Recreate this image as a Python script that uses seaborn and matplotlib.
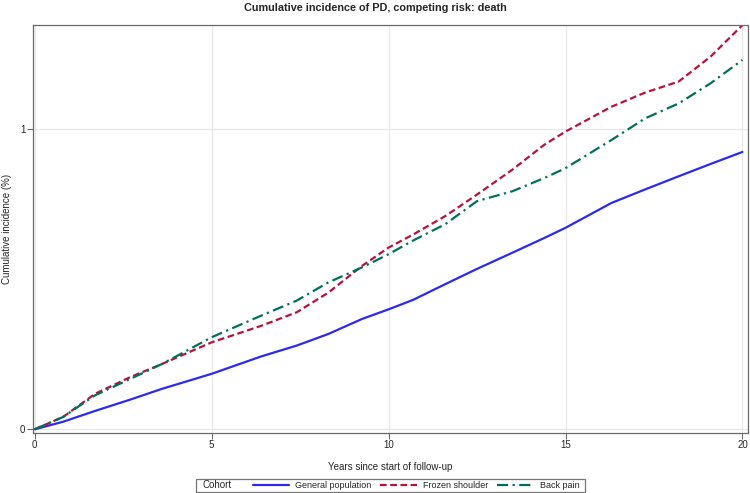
import pandas as pd
import seaborn as sns
import matplotlib.pyplot as plt
import matplotlib.patches as mpatches

# values (years, cumulative incidence in %)
years = [0, 0.8, 1.7, 2.7, 3.6, 5, 6.4, 7.4, 8.3, 9.25, 10, 10.7, 11.6,
         12.5, 13.5, 14.4, 15, 16.3, 17.25, 18.2, 19.1, 20]
general_population = [0, 0.025, 0.061, 0.099, 0.135, 0.185, 0.243, 0.279, 0.318, 0.368, 0.400,
                      0.432, 0.484, 0.535, 0.589, 0.638, 0.672, 0.755, 0.800, 0.844, 0.885, 0.925]
frozen_shoulder = [0, 0.041, 0.118, 0.174, 0.218, 0.290, 0.345, 0.390, 0.456, 0.545, 0.606,
                   0.650, 0.711, 0.783, 0.866, 0.949, 0.993, 1.076, 1.123, 1.160, 1.243, 1.348]
back_pain = [0, 0.041, 0.113, 0.168, 0.218, 0.307, 0.379, 0.429, 0.490, 0.540, 0.584,
             0.630, 0.684, 0.761, 0.794, 0.838, 0.871, 0.965, 1.037, 1.087, 1.154, 1.232]

cohorts = ['General population', 'Frozen shoulder', 'Back pain']
colors = {'General population': '#2a2af0', 'Frozen shoulder': '#b8123a', 'Back pain': '#00705c'}
styles = {'General population': '-', 'Frozen shoulder': (0, (3, 1.6)), 'Back pain': (0, (5, 2, 1, 2))}

df = pd.DataFrame({'years': years * 3,
                   'incidence': general_population + frozen_shoulder + back_pain,
                   'cohort': [c for c in cohorts for _ in years]})

sns.set_style('white')
plt.rcParams['font.family'] = ['Liberation Sans', 'DejaVu Sans']

fig = plt.figure(figsize=(7.5, 4.93), dpi=100)
ax = fig.add_axes([0.044, 0.122, 0.953, 0.827])

for c in cohorts:
    sns.lineplot(data=df[df.cohort == c], x='years', y='incidence', color=colors[c],
                 linestyle=styles[c], linewidth=1.6, ax=ax, label=c, legend=False)

ax.set_xlim(-0.05, 20.15)
ax.set_ylim(-0.012, 1.348)
ax.set_xticks([0, 5, 10, 15, 20])
ax.set_yticks([0, 1])
ax.grid(True, color='#e8e8e8', linewidth=0.9)
ax.set_axisbelow(True)
for s in ax.spines.values():
    s.set_color('#6a6a6a')
    s.set_linewidth(0.9)
ax.tick_params(axis='both', direction='out', length=4, width=0.8, color='#6a6a6a',
               labelsize=7, pad=1.5, bottom=True, left=True)
ax.set_xlabel('Years since start of follow-up', fontsize=7, labelpad=8)
ax.set_ylabel('Cumulative incidence (%)', fontsize=7)
ax.yaxis.set_label_coords(-0.030, 0.5)

fig.suptitle('Cumulative incidence of PD, competing risk: death', fontsize=7.8,
             fontweight='bold', y=0.993, va='top')

# legend box at the bottom, SAS style with "Cohort" label
box = mpatches.Rectangle((0.261, 0.002), 0.519, 0.027, transform=fig.transFigure,
                         fill=False, edgecolor='#777777', linewidth=0.9)
fig.add_artist(box)
fig.text(0.270, 0.0155, 'Cohort', fontsize=7, va='center', ha='left')
handles, labels = ax.get_legend_handles_labels()
fig.legend(handles, labels, loc='center left', bbox_to_anchor=(0.337, 0.0155), ncol=3,
           frameon=False, fontsize=6.5, handlelength=4.0, columnspacing=1.0,
           handletextpad=0.7, borderpad=0, borderaxespad=0)

fig.savefig('out.png', dpi=100)
